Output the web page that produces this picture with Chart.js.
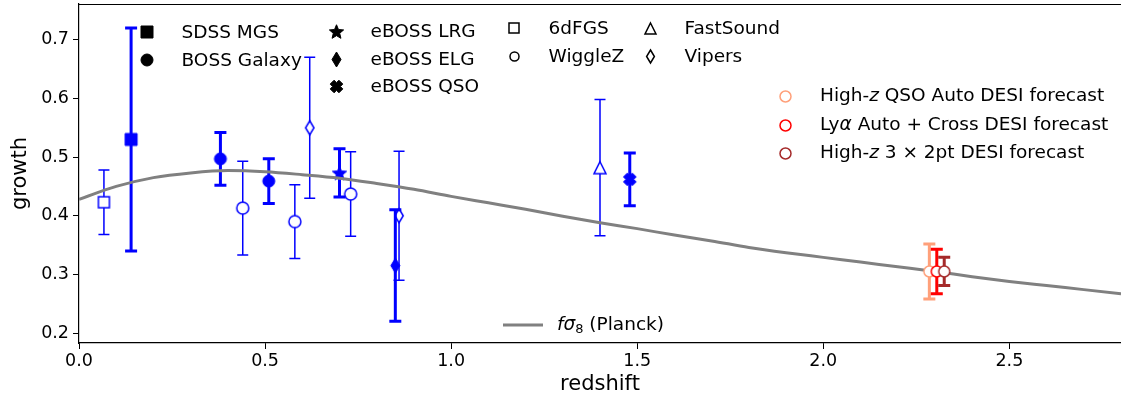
<!DOCTYPE html>
<html>
<head>
<meta charset="utf-8">
<script src="https://cdn.jsdelivr.net/npm/chart.js@4.4.0/dist/chart.umd.min.js"></script>
<style>
  html, body { margin: 0; padding: 0; background: #fff; }
  #wrap { width: 1121px; height: 400px; }
</style>
</head>
<body>
<div id="wrap"><canvas id="chart" width="1121" height="400"></canvas></div>
<script>
// values: redshift, f*sigma8, symmetric 1-sigma error
const sixdfZ = [0.067], sixdfG = [0.423], sixdfErr = [0.055];
const mgsZ = [0.14], mgsG = [0.53], mgsErr = [0.19];
const bossZ = [0.38, 0.51], bossG = [0.497, 0.459], bossErr = [0.045, 0.038];
const wiggleZ = [0.44, 0.58, 0.73], wiggleG = [0.413, 0.390, 0.437], wiggleErr = [0.080, 0.063, 0.072];
const vipersZ = [0.62, 0.86], vipersG = [0.55, 0.40], vipersErr = [0.12, 0.11];
const lrgZ = [0.70], lrgG = [0.473], lrgErr = [0.041];
const elgZ = [0.85], elgG = [0.315], elgErr = [0.095];
const fastZ = [1.40], fastG = [0.482], fastErr = [0.116];
const qsoZ = [1.48], qsoG = [0.462], qsoErr = [0.045];

// DESI forecasts
const desiQsoZ = [2.285], desiQsoG = [0.305], desiQsoErr = [0.047];
const desiLyaZ = [2.305], desiLyaG = [0.305], desiLyaErr = [0.038];
const desi3x2Z = [2.325], desi3x2G = [0.305], desi3x2Err = [0.024];

// Planck f*sigma8 curve
const curveZ = [0, 0.1, 0.2, 0.3, 0.4, 0.5, 0.6, 0.7, 0.8, 0.9, 1.0, 1.1, 1.2, 1.3, 1.4,
  1.5, 1.6, 1.7, 1.8, 1.9, 2.0, 2.1, 2.2, 2.3, 2.4, 2.5, 2.6, 2.7, 2.8];
const curveG = [0.428, 0.450, 0.465, 0.473, 0.477, 0.475, 0.470, 0.464, 0.455, 0.445, 0.433,
  0.422, 0.411, 0.399, 0.388, 0.378, 0.367, 0.357, 0.346, 0.337, 0.329, 0.321, 0.313, 0.305,
  0.296, 0.288, 0.281, 0.274, 0.267];

const xTicks = [0, 0.5, 1.0, 1.5, 2.0, 2.5];
const yTicks = [0.2, 0.3, 0.4, 0.5, 0.6, 0.7];

const FONT = '"DejaVu Sans", sans-serif';
const BLUE = '#0000ff';

// small canvases used as point styles (matplotlib-like markers)
function marker(shape, size, fill, stroke, lw) {
  const pad = Math.ceil(lw) + 2;
  const c = document.createElement('canvas');
  c.width = c.height = size + pad * 2;
  const g = c.getContext('2d');
  const m = c.width / 2, r = size / 2;
  g.beginPath();
  if (shape === 'square') {
    g.rect(m - r, m - r, size, size);
  } else if (shape === 'circle') {
    g.arc(m, m, r, 0, Math.PI * 2);
  } else if (shape === 'diamond') {
    g.moveTo(m, m - r); g.lineTo(m + r * 0.6, m); g.lineTo(m, m + r); g.lineTo(m - r * 0.6, m);
    g.closePath();
  } else if (shape === 'triangle') {
    g.moveTo(m, m - r); g.lineTo(m + r, m + r); g.lineTo(m - r, m + r);
    g.closePath();
  } else if (shape === 'star') {
    for (let i = 0; i < 10; i++) {
      const a = -Math.PI / 2 + i * Math.PI / 5;
      const rr = i % 2 ? r * 0.45 : r;
      g.lineTo(m + rr * Math.cos(a), m + rr * Math.sin(a) + r * 0.1);
    }
    g.closePath();
  } else if (shape === 'x') {
    const a = r * 0.42, L = r * 0.95;
    const pts = [[a, L], [a, a], [L, a], [L, -a], [a, -a], [a, -L], [-a, -L], [-a, -a], [-L, -a], [-L, a], [-a, a], [-a, L]];
    const k = Math.SQRT1_2;
    pts.forEach(([px, py]) => g.lineTo(m + (px - py) * k, m + (px + py) * k));
    g.closePath();
  }
  if (fill) { g.fillStyle = fill; g.fill(); }
  if (stroke) { g.strokeStyle = stroke; g.lineWidth = lw; g.stroke(); }
  return c;
}

const pts = (zs, gs) => zs.map((z, i) => ({ x: z, y: gs[i] }));

function survey(label, zs, gs, errs, style, opts) {
  return Object.assign({
    label: label,
    data: pts(zs, gs),
    pointStyle: style,
    pointRadius: 6,
    showLine: false,
    err: errs,
    barColor: BLUE,
    barWidth: 1.5,
    cap: 5.5
  }, opts);
}

const thick = { barWidth: 3, cap: 6 };

const datasets = [
  survey('SDSS MGS', mgsZ, mgsG, mgsErr, marker('square', 12, BLUE, BLUE, 1), Object.assign({ order: 100 }, thick)),
  {
    label: 'fσ8 (Planck)', data: pts(curveZ, curveG), showLine: true, borderColor: '#808080',
    borderWidth: 3, pointRadius: 0, cubicInterpolationMode: 'monotone', order: 20
  },
  survey('6dFGS', sixdfZ, sixdfG, sixdfErr, marker('square', 11, '#fff', BLUE, 1.5), { order: 99 }),
  survey('BOSS Galaxy', bossZ, bossG, bossErr, marker('circle', 12, BLUE, BLUE, 1), Object.assign({ order: 98 }, thick)),
  survey('WiggleZ', wiggleZ, wiggleG, wiggleErr, marker('circle', 12, '#fff', BLUE, 1.5), { order: 97 }),
  survey('Vipers', vipersZ, vipersG, vipersErr, marker('diamond', 14, '#fff', BLUE, 1.5), { order: 96 }),
  survey('eBOSS LRG', lrgZ, lrgG, lrgErr, marker('star', 15, BLUE, BLUE, 1), Object.assign({ order: 95 }, thick)),
  survey('eBOSS ELG', elgZ, elgG, elgErr, marker('diamond', 15, BLUE, BLUE, 1), Object.assign({ order: 94 }, thick)),
  survey('FastSound', fastZ, fastG, fastErr, marker('triangle', 12, '#fff', BLUE, 1.5), { order: 93 }),
  survey('eBOSS QSO', qsoZ, qsoG, qsoErr, marker('x', 13, BLUE, BLUE, 1), Object.assign({ order: 92 }, thick)),
  survey('High-z QSO Auto DESI forecast', desiQsoZ, desiQsoG, desiQsoErr, marker('circle', 11, '#fff', '#ffa07a', 1.5),
    { order: 10, barColor: '#ffa07a', barWidth: 3, cap: 6 }),
  survey('Lyα Auto + Cross DESI forecast', desiLyaZ, desiLyaG, desiLyaErr, marker('circle', 11, '#fff', '#ff0000', 1.5),
    { order: 9, barColor: '#ff0000', barWidth: 3, cap: 6 }),
  survey('High-z 3x2pt DESI forecast', desi3x2Z, desi3x2G, desi3x2Err, marker('circle', 11, '#fff', '#a52a2a', 1.5),
    { order: 8, barColor: '#a52a2a', barWidth: 3, cap: 6 })
];

// vertical error bars with caps, drawn just before each dataset's markers
const errorBars = {
  id: 'errorBars',
  beforeDatasetDraw(chart, args) {
    const ds = chart.data.datasets[args.index];
    if (!ds.err) return;
    const { ctx, scales: { x, y } } = chart;
    ctx.save();
    ctx.strokeStyle = ds.barColor;
    ctx.lineWidth = ds.barWidth;
    ds.data.forEach((p, i) => {
      const px = x.getPixelForValue(p.x);
      const top = y.getPixelForValue(p.y + ds.err[i]);
      const bot = y.getPixelForValue(p.y - ds.err[i]);
      ctx.beginPath();
      ctx.moveTo(px, top); ctx.lineTo(px, bot);
      ctx.moveTo(px - ds.cap, top); ctx.lineTo(px + ds.cap, top);
      ctx.moveTo(px - ds.cap, bot); ctx.lineTo(px + ds.cap, bot);
      ctx.stroke();
    });
    ctx.restore();
  }
};

function richText(ctx, parts, x, y, size) {
  parts.forEach(p => {
    const s = p.sub ? size * 0.7 : size;
    ctx.font = (p.it ? 'italic ' : '') + s + 'px ' + FONT;
    ctx.fillText(p.t, x, y + (p.sub ? size * 0.25 : 0));
    x += ctx.measureText(p.t).width;
  });
}

// matplotlib style legends placed inside the axes
const legends = {
  id: 'legends',
  afterDraw(chart) {
    const ctx = chart.ctx;
    const area = chart.chartArea;
    ctx.save();
    // top spine
    ctx.strokeStyle = '#000';
    ctx.lineWidth = 1.2;
    ctx.beginPath();
    ctx.moveTo(area.left, area.top + 0.5);
    ctx.lineTo(area.right, area.top + 0.5);
    ctx.stroke();

    ctx.fillStyle = '#000';
    ctx.textBaseline = 'middle';
    ctx.textAlign = 'left';
    const size = 18.5;
    const put = (img, x, y) => ctx.drawImage(img, Math.round(x - img.width / 2), Math.round(y - img.height / 2));
    const entries = [
      [marker('square', 12, '#000', '#000', 1), 147, 32, 'SDSS MGS'],
      [marker('circle', 12, '#000', '#000', 1), 147, 60, 'BOSS Galaxy'],
      [marker('star', 15, '#000', '#000', 1), 336, 31, 'eBOSS LRG'],
      [marker('diamond', 15, '#000', '#000', 1), 336, 59, 'eBOSS ELG'],
      [marker('x', 13, '#000', '#000', 1), 336, 86, 'eBOSS QSO'],
      [marker('square', 10, '#fff', '#000', 1.5), 514, 28, '6dFGS'],
      [marker('circle', 9, '#fff', '#000', 1.5), 514, 56, 'WiggleZ'],
      [marker('triangle', 11, '#fff', '#000', 1.5), 650, 28, 'FastSound'],
      [marker('diamond', 13, '#fff', '#000', 1.5), 650, 56, 'Vipers']
    ];
    entries.forEach(([img, x, y, text]) => {
      put(img, x, y);
      richText(ctx, [{ t: text }], x + 34.5, y + 1, size);
    });

    const desi = [
      ['#ffa07a', 96, [{ t: 'High-' }, { t: 'z', it: true }, { t: ' QSO Auto DESI forecast' }]],
      ['#ff0000', 125, [{ t: 'Ly' }, { t: 'α', it: true }, { t: ' Auto + Cross DESI forecast' }]],
      ['#a52a2a', 153, [{ t: 'High-' }, { t: 'z', it: true }, { t: ' 3 × 2pt DESI forecast' }]]
    ];
    desi.forEach(([col, y, parts]) => {
      put(marker('circle', 11, '#fff', col, 1.5), 785, y);
      richText(ctx, parts, 820, y, size);
    });

    // curve legend
    ctx.strokeStyle = '#808080';
    ctx.lineWidth = 3;
    ctx.beginPath();
    ctx.moveTo(503, 325);
    ctx.lineTo(543, 325);
    ctx.stroke();
    richText(ctx, [{ t: 'f', it: true }, { t: 'σ', it: true }, { t: '8', sub: true }, { t: ' (Planck)' }], 557, 325, size);
    ctx.restore();
  }
};

const tickFont = { family: FONT, size: 17.5 };
const titleFont = { family: FONT, size: 21 };
const noPad = s => { s.paddingTop = 0; s.paddingBottom = 0; s.paddingLeft = 0; s.paddingRight = 0; };

new Chart(document.getElementById('chart'), {
  type: 'scatter',
  data: { datasets: datasets },
  options: {
    responsive: false,
    animation: false,
    events: [],
    layout: { autoPadding: false, padding: { top: 4, right: 0, left: 0, bottom: 0 } },
    plugins: { legend: { display: false }, tooltip: { enabled: false } },
    scales: {
      x: {
        type: 'linear', min: 0, max: 2.8,
        afterBuildTicks: s => { s.ticks = xTicks.map(v => ({ value: v })); },
        afterFit: s => { s.height = 57; noPad(s); },
        ticks: { font: tickFont, color: '#000', padding: 2, maxRotation: 0, autoSkip: false, callback: v => v.toFixed(1) },
        grid: { drawOnChartArea: false, tickLength: 6, color: '#000', lineWidth: 1 },
        border: { color: '#000', width: 1.2 },
        title: { display: true, text: 'redshift', font: titleFont, color: '#000', padding: { top: 0, bottom: 3 } }
      },
      y: {
        type: 'linear', min: 0.183, max: 0.761,
        afterBuildTicks: s => { s.ticks = yTicks.map(v => ({ value: v })); },
        afterFit: s => { s.width = 79; noPad(s); },
        ticks: { font: tickFont, color: '#000', padding: 4, autoSkip: false, callback: v => v.toFixed(1) },
        grid: { drawOnChartArea: false, tickLength: 6, color: '#000', lineWidth: 1 },
        border: { color: '#000', width: 1.2 },
        title: { display: true, text: 'growth', font: titleFont, color: '#000', padding: { top: 8, bottom: 0 } }
      }
    }
  },
  plugins: [errorBars, legends]
});
</script>
</body>
</html>
